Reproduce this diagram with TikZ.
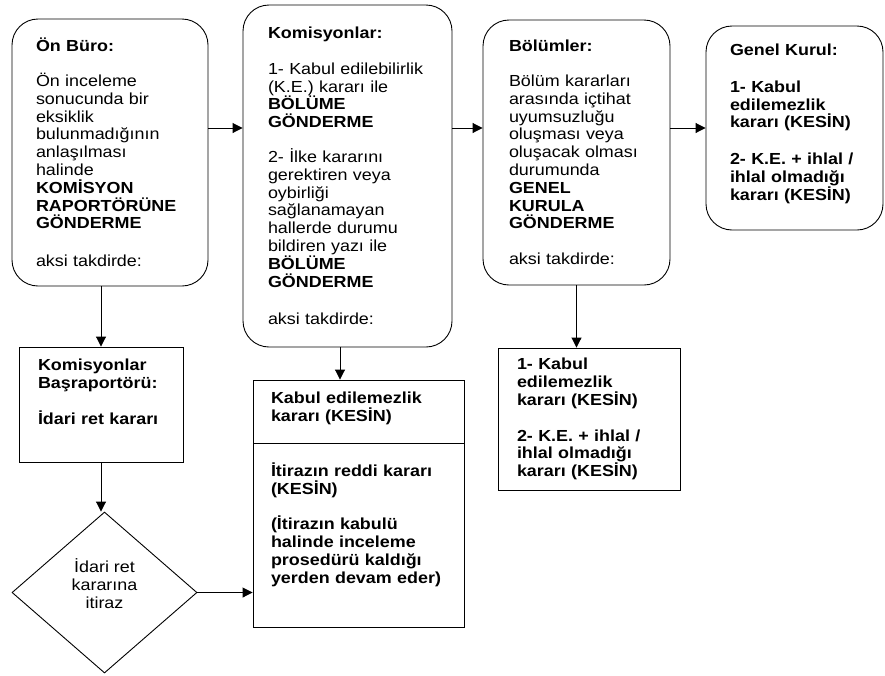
\documentclass[tikz,border=0pt]{standalone}
\usepackage{fontspec}
\setmainfont{Liberation Sans}[FakeStretch=1.12]
\usetikzlibrary{shapes.geometric,arrows.meta}
\newcommand{\altbosluk}[1]{\rule[-#1]{0pt}{#1}}

\begin{document}
\begin{tikzpicture}[x=1pt,y=-1pt,
  yazi/.style={font=\fontsize{16}{17.8}\selectfont,align=left,inner ysep=0pt},
  yuvarlak/.style={yazi,draw,line width=.9pt,rounded corners=26pt},
  kare/.style={yazi,draw,line width=.9pt},
  ok/.style={line width=.9pt,-{Triangle[length=10pt,width=10pt]}}]
\useasboundingbox (0,0) rectangle (885,675);
\coordinate (Sira) at (0,128);
\coordinate (Kol) at (340,0);

% ust sira
\node[yuvarlak,text width=148pt,inner xsep=24pt,minimum height=267pt] (OnBuro) at (110,152.5)
  {\textbf{Ön Büro:}\\[17pt]
   Ön inceleme\\ sonucunda bir\\ eksiklik\\ bulunmadığının\\ anlaşılması\\ halinde\\
   \textbf{KOMİSYON}\\ \textbf{RAPORTÖRÜNE}\\ \textbf{GÖNDERME}\\[20pt]
   aksi takdirde:};
\node[yuvarlak,text width=159pt,inner xsep=25pt,minimum height=342pt] (Komisyon) at (347.5,176)
  {\textbf{Komisyonlar:}\\[18pt]
   1- Kabul edilebilirlik\\ (K.E.) kararı ile\\ \textbf{BÖLÜME}\\ \textbf{GÖNDERME}\\[17pt]
   2- İlke kararını\\ gerektiren veya\\ oybirliği\\ sağlanamayan\\ hallerde durumu\\ bildiren yazı ile\\
   \textbf{BÖLÜME}\\ \textbf{GÖNDERME}\\[20pt]
   aksi takdirde:};
\node[yuvarlak,text width=135pt,inner xsep=26pt,minimum height=265pt] (Bolum) at (576.5,152.5)
  {\textbf{Bölümler:}\\[17pt]
   Bölüm kararları\\ arasında içtihat\\ uyumsuzluğu\\ oluşması veya\\ oluşacak olması\\ durumunda\\
   \textbf{GENEL}\\ \textbf{KURULA}\\ \textbf{GÖNDERME}\\[18pt]
   aksi takdirde:};
\node[yuvarlak,text width=129pt,inner xsep=24pt,minimum height=204pt] (GenelKurul) at (794.5,128)
  {\textbf{Genel Kurul:}\\[19pt]
   \textbf{1- Kabul}\\ \textbf{edilemezlik}\\ \textbf{kararı (KESİN)}\\[19pt]
   \textbf{2- K.E. + ihlal /}\\ \textbf{ihlal olmadığı}\\ \textbf{kararı (KESİN)}\altbosluk{12pt}};

% alt sira
\node[kare,text width=126pt,inner xsep=19pt,minimum height=115pt] (Basrap) at (101,404.5)
  {\textbf{Komisyonlar}\\ \textbf{Başraportörü:}\\[18pt]
   \textbf{İdari ret kararı}\altbosluk{26pt}};
\node[yazi,draw,diamond,line width=.9pt,align=center,inner sep=0pt,
  minimum width=185pt,minimum height=161pt] (Itiraz) at (104.5,592.5)
  {İdari ret\\ kararına\\ itiraz\altbosluk{18pt}};
\node[kare,text width=175pt,inner xsep=18pt,minimum height=63pt] (KabulUst) at (358.5,411.5)
  {\textbf{Kabul edilemezlik}\\ \textbf{kararı (KESİN)}\altbosluk{9pt}};
\node[kare,text width=175pt,inner xsep=18pt,minimum height=184pt,anchor=north] (KabulAlt) at (KabulUst.south)
  {\textbf{İtirazın reddi kararı}\\ \textbf{(KESİN)}\\[18pt]
   \textbf{(İtirazın kabulü}\\ \textbf{halinde inceleme}\\ \textbf{prosedürü kaldığı}\\ \textbf{yerden devam eder)}\altbosluk{26pt}};
\node[kare,text width=144pt,inner xsep=19pt,minimum height=142pt] (BolumSonuc) at (589,419)
  {\textbf{1- Kabul}\\ \textbf{edilemezlik}\\ \textbf{kararı (KESİN)}\\[18pt]
   \textbf{2- K.E. + ihlal /}\\ \textbf{ihlal olmadığı}\\ \textbf{kararı (KESİN)}};

% oklar
\draw[ok] (OnBuro.east |- Sira) -- (Komisyon.west |- Sira);
\draw[ok] (Komisyon.east |- Sira) -- (Bolum.west |- Sira);
\draw[ok] (Bolum.east |- Sira) -- (GenelKurul.west |- Sira);
\draw[ok] (Basrap.north |- OnBuro.south) -- (Basrap.north);
\draw[ok] (Basrap.south) -- (Basrap.south |- Itiraz.north);
\draw[ok] (Komisyon.south -| Kol) -- (KabulUst.north -| Kol);
\draw[ok] (Bolum.south) -- (Bolum.south |- BolumSonuc.north);
\draw[ok] (Itiraz.east) -- (Itiraz.east -| KabulAlt.west);
\end{tikzpicture}
\end{document}
